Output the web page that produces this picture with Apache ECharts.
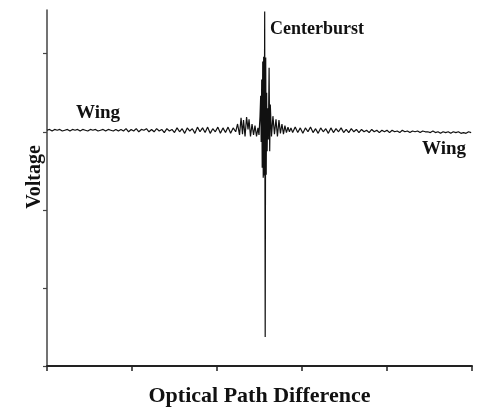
<!DOCTYPE html>
<html>
<head>
<meta charset="utf-8">
<script src="https://cdn.jsdelivr.net/npm/echarts@6/dist/echarts.min.js"></script>
<style>
  html, body { margin: 0; padding: 0; background: #fff; }
  #chart { width: 477px; height: 407px; }
</style>
</head>
<body>
<div id="chart"></div>
<script>
// x axis (optical path difference) 0..500, five equal ticks
const xTicks = [0, 100, 200, 300, 400, 500]
// y axis (voltage) ticks
const yTicks = [0, 1, 2, 3, 4]

// left wing, sampled every 3 units from 0
const leftWingStart = 0
const wingStep = 3
const leftWing = [
  3.02, 3.03, 3.01, 3.03, 3.02, 3.03, 3.01, 3.02, 3.03, 3.01,
  3.03, 3.02, 3.03, 3.01, 3.03, 3.02, 3.01, 3.03, 3.02, 3.03,
  3.01, 3.02, 3.03, 3.01, 3.03, 3.02, 3.01, 3.03, 3.01, 3.03,
  3.01, 3.04, 3.00, 3.03, 3.01, 3.04, 3.00, 3.03, 3.02, 3.04,
  3.00, 3.03, 3.00, 3.04, 3.01, 3.03, 2.99, 3.04, 3.01, 3.03,
  2.99, 3.05, 3.00, 3.04, 2.98, 3.05, 3.01, 3.04, 2.98, 3.06,
  3.00, 3.05, 2.99, 3.06, 2.98, 3.04, 3.00, 3.06, 2.98, 3.05,
  2.99, 3.06, 2.98, 3.05, 3.00
]

// centerburst region, read point by point
const burstX = [
  224.2, 226.5, 228.3, 230.0, 231.2, 233.0, 234.8, 236.5, 237.7, 239.4,
  241.2, 243.0, 244.7, 246.5, 248.2, 249.4, 250.6, 251.4, 252.0, 252.6,
  253.2, 253.8, 254.4, 254.9, 255.5, 256.1, 256.7, 257.3, 257.9, 258.4,
  259.0, 259.7, 260.4, 261.3, 262.0, 262.7, 264.1, 265.8, 267.6, 269.4,
  271.1, 272.9, 274.6, 276.4, 278.2, 279.9, 281.7, 283.5, 285.2, 287.0
]
const burstV = [
  3.10, 2.96, 3.18, 2.97, 3.15, 2.94, 3.19, 3.03, 3.16, 2.94,
  3.10, 2.96, 3.08, 2.94, 3.05, 2.96, 3.20, 3.46, 2.87, 3.67,
  2.54, 3.90, 2.41, 3.96, 2.44, 4.54, 0.37, 3.95, 2.45, 3.50,
  2.75, 3.30, 2.90, 3.82, 2.75, 3.35, 2.94, 3.20, 2.97, 3.16,
  2.94, 3.15, 2.98, 3.10, 2.97, 3.08, 2.99, 3.06, 3.00, 3.05
]

// right wing, sampled every 3 units from 289
const rightWingStart = 289
const rightWing = [
  2.99, 3.06, 2.99, 3.05, 2.98, 3.05, 3.00, 3.06, 2.99, 3.04,
  2.98, 3.05, 3.00, 3.04, 2.98, 3.05, 2.99, 3.04, 3.00, 3.05,
  2.99, 3.03, 2.99, 3.04, 3.00, 3.03, 2.99, 3.03, 3.00, 3.02,
  2.99, 3.03, 3.00, 3.02, 2.99, 3.02, 3.00, 3.02, 2.99, 3.02,
  3.00, 3.01, 2.99, 3.02, 3.00, 3.01, 2.99, 3.01, 3.00, 3.01,
  2.99, 3.01, 3.00, 3.00, 2.99, 3.01, 2.99, 3.00, 2.98, 3.00,
  2.99, 3.00, 2.98, 3.00, 2.99, 3.00, 2.98, 2.99, 2.98, 3.00, 2.99
]

// build [x, y] pairs
const points = []
leftWing.forEach((v, i) => points.push([leftWingStart + i * wingStep, v]))
burstX.forEach((x, i) => points.push([x, burstV[i]]))
rightWing.forEach((v, i) => points.push([rightWingStart + i * wingStep, v]))

const serif = '"Liberation Serif", "DejaVu Serif", serif'

const chart = echarts.init(document.getElementById('chart'))
const option = {
  animation: false,
  backgroundColor: '#fff',
  grid: { left: 47, right: 5, top: 10, bottom: 41, outerBoundsMode: 'none' },
  xAxis: {
    type: 'value',
    min: xTicks[0],
    max: xTicks[xTicks.length - 1],
    interval: xTicks[1] - xTicks[0],
    name: 'Optical Path Difference',
    nameLocation: 'middle',
    nameGap: 19,
    nameTextStyle: { fontFamily: serif, fontWeight: 'bold', fontSize: 22, color: '#111' },
    axisLine: { lineStyle: { color: '#222', width: 2 } },
    axisTick: { length: 5, lineStyle: { color: '#222', width: 1.5 } },
    axisLabel: { show: false },
    splitLine: { show: false }
  },
  yAxis: {
    type: 'value',
    min: 0,
    max: 4.56,
    axisLine: { lineStyle: { color: '#444', width: 1.5 } },
    axisTick: { length: 4, customValues: yTicks, lineStyle: { color: '#444', width: 1.2 } },
    axisLabel: { show: false },
    splitLine: { show: false }
  },
  graphic: [
    {
      type: 'text', x: 35, y: 177, rotation: Math.PI / 2,
      style: { text: 'Voltage', font: 'bold 20px ' + serif, fill: '#111', align: 'center', verticalAlign: 'middle' }
    },
    { type: 'text', left: 76, top: 104, style: { text: 'Wing', font: 'bold 19px ' + serif, fill: '#111' } },
    { type: 'text', left: 270, top: 20, style: { text: 'Centerburst', font: 'bold 18px ' + serif, fill: '#111' } },
    { type: 'text', left: 422, top: 140, style: { text: 'Wing', font: 'bold 19px ' + serif, fill: '#111' } }
  ],
  series: [
    {
      type: 'line',
      data: points,
      symbol: 'none',
      lineStyle: { color: '#111', width: 1.2 }
    }
  ]
}
chart.setOption(option)
</script>
</body>
</html>
